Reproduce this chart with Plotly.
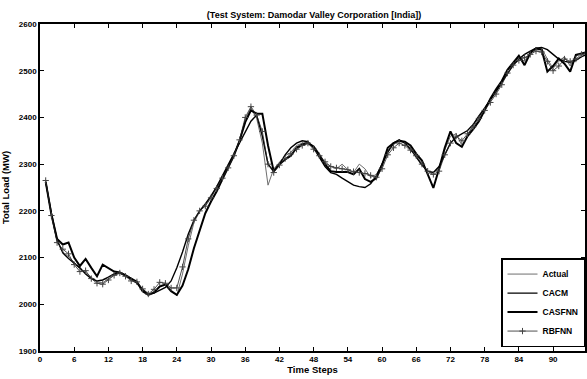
import plotly.graph_objects as go

t = list(range(1, 97))

actual = [2262, 2193, 2135, 2112, 2102, 2090, 2075, 2068, 2058, 2048,
          2046, 2055, 2063, 2066, 2062, 2052, 2045, 2030, 2020, 2028,
          2040, 2043, 2030, 2018, 2065, 2125, 2175, 2198, 2212, 2230,
          2250, 2272, 2295, 2320, 2350, 2395, 2420, 2398, 2345, 2255,
          2290, 2305, 2318, 2325, 2340, 2345, 2347, 2335, 2318, 2302,
          2295, 2290, 2300, 2288, 2282, 2300, 2290, 2272, 2278, 2300,
          2330, 2340, 2352, 2345, 2335, 2320, 2305, 2280, 2282, 2290,
          2330, 2360, 2365, 2340, 2360, 2385, 2405, 2420, 2440, 2455,
          2475, 2500, 2515, 2530, 2520, 2540, 2545, 2548, 2525, 2505,
          2520, 2530, 2510, 2532, 2535, 2540]

cacm = [2262, 2195, 2138, 2110, 2098, 2088, 2078, 2065, 2055, 2050,
        2052, 2058, 2065, 2068, 2063, 2055, 2045, 2032, 2022, 2024,
        2030, 2036, 2050, 2078, 2112, 2150, 2180, 2200, 2215, 2232,
        2252, 2275, 2298, 2322, 2345, 2368, 2392, 2405, 2360, 2300,
        2285, 2300, 2320, 2335, 2345, 2350, 2348, 2335, 2315, 2295,
        2282, 2278, 2270, 2262, 2255, 2252, 2250, 2258, 2275, 2300,
        2325, 2345, 2352, 2345, 2332, 2315, 2298, 2285, 2282, 2295,
        2320, 2345, 2358, 2365, 2372, 2385, 2402, 2420, 2438, 2455,
        2475, 2495, 2512, 2525, 2535, 2542, 2548, 2550, 2545, 2535,
        2525, 2520, 2518, 2522, 2530, 2535]

casfnn = [2262, 2192, 2140, 2128, 2132, 2100, 2082, 2097, 2078, 2060,
          2085, 2078, 2070, 2068, 2062, 2055, 2048, 2028, 2020, 2025,
          2038, 2042, 2028, 2020, 2040, 2075, 2120, 2160, 2195, 2220,
          2242, 2268, 2292, 2318, 2350, 2390, 2415, 2408, 2408, 2340,
          2285, 2300, 2310, 2318, 2335, 2342, 2345, 2338, 2320, 2300,
          2285, 2283, 2283, 2283, 2278, 2290, 2268, 2262, 2270, 2298,
          2335, 2345, 2350, 2348, 2340, 2322, 2308, 2280, 2249, 2290,
          2335, 2370, 2345, 2337, 2360, 2375, 2392, 2415, 2440, 2460,
          2478, 2502, 2518, 2532, 2512, 2538, 2548, 2545, 2498, 2510,
          2526, 2515, 2498, 2534, 2537, 2540]

rbfnn = [2265, 2190, 2132, 2118, 2108, 2085, 2070, 2072, 2055, 2045,
         2043, 2052, 2062, 2067, 2060, 2050, 2048, 2033, 2022, 2032,
         2047, 2045, 2035, 2035, 2080, 2140, 2180, 2200, 2210, 2228,
         2248, 2270, 2292, 2318, 2352, 2400, 2423, 2405, 2370, 2300,
         2282, 2298, 2312, 2322, 2332, 2340, 2345, 2332, 2318, 2305,
         2295, 2292, 2290, 2288, 2284, 2282, 2280, 2276, 2272, 2290,
         2320, 2335, 2345, 2340, 2330, 2318, 2300, 2285, 2278, 2285,
         2320, 2345, 2360, 2350, 2365, 2380, 2398, 2415, 2432, 2450,
         2470, 2495, 2512, 2522, 2528, 2535, 2542, 2540, 2520, 2500,
         2510, 2525, 2520, 2525, 2535, 2538]

x_ticks = list(range(0, 96, 6))
y_ticks = list(range(1900, 2601, 100))

FONT = "Liberation Sans Narrow, Arial Narrow, Liberation Sans, Arial, sans-serif"

fig = go.Figure()
fig.add_trace(go.Scatter(x=t, y=actual, name="Actual", mode="lines",
                         line=dict(color="#6e6e6e", width=1)))
fig.add_trace(go.Scatter(x=t, y=cacm, name="CACM", mode="lines",
                         line=dict(color="black", width=1.4)))
fig.add_trace(go.Scatter(x=t, y=casfnn, name="CASFNN", mode="lines",
                         line=dict(color="black", width=2)))
fig.add_trace(go.Scatter(x=t, y=rbfnn, name="RBFNN", mode="lines+markers",
                         line=dict(color="#222222", width=0.8),
                         marker=dict(symbol="cross-thin", size=4.5,
                                     line=dict(color="#444444", width=1))))

axis_common = dict(showgrid=False, zeroline=False, showline=True,
                   linecolor="black", linewidth=1.5, ticks="inside",
                   ticklen=4, tickwidth=1, tickcolor="black", mirror="ticks",
                   tickfont=dict(family=FONT, size=8, color="black", weight="bold"))

fig.update_layout(
    width=587, height=379,
    margin=dict(l=40, r=0, t=24, b=28),
    paper_bgcolor="white", plot_bgcolor="white",
    font=dict(family=FONT, color="black"),
    title=dict(text="<b>(Test System: Damodar Valley Corporation [India])</b>",
               x=0.535, xanchor="center", y=0.962, yanchor="middle",
               font=dict(family=FONT, size=9, color="black")),
    xaxis=dict(range=[0, 95.6], tickvals=x_ticks,
               title=dict(text="<b>Time Steps</b>", standoff=2,
                          font=dict(family=FONT, size=9.5, color="black")),
               **axis_common),
    yaxis=dict(range=[1900, 2600], tickvals=y_ticks,
               title=dict(text="<b>Total Load (MW)</b>", standoff=10,
                          font=dict(family=FONT, size=9.5, color="black")),
               **axis_common),
    legend=dict(x=1, xanchor="right", y=0.012, yanchor="bottom",
                bgcolor="white", bordercolor="black", borderwidth=1.5,
                font=dict(family=FONT, size=8.5, color="black", weight="bold"),
                itemwidth=30, tracegroupgap=0),
    showlegend=True,
)

fig.write_html("out.html")
